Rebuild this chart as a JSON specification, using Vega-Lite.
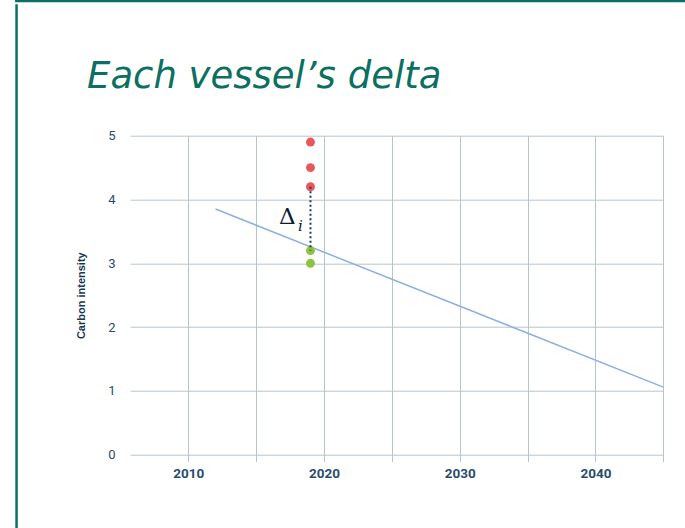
{
  "$schema": "https://vega.github.io/schema/vega-lite/v6.json",
  "autosize": {"type": "none"},
  "width": 533.3,
  "height": 319,
  "padding": {"left": 130, "top": 135.7, "right": 21.7, "bottom": 73.3},
  "background": "white",
  "data": {"values": [{}]},
  "title": {
    "text": "Each vessel’s delta",
    "anchor": "start",
    "frame": "group",
    "orient": "top",
    "baseline": "alphabetic",
    "offset": -125,
    "dx": -43,
    "font": "DejaVu Sans",
    "fontStyle": "italic",
    "fontWeight": "normal",
    "fontSize": 37,
    "color": "#0b6f62"
  },
  "config": {
    "view": {"stroke": null},
    "axis": {
      "gridColor": "#b7c4ce",
      "gridWidth": 1,
      "gridOpacity": 1,
      "domain": false
    }
  },
  "datasets": {
    "vessels": [
      {"year": 2019, "intensity": 4.9, "status": "above"},
      {"year": 2019, "intensity": 4.5, "status": "above"},
      {"year": 2019, "intensity": 4.2, "status": "above"},
      {"year": 2019, "intensity": 3.2, "status": "below"},
      {"year": 2019, "intensity": 3.0, "status": "below"}
    ],
    "trajectory": [
      {"year": 2012, "intensity": 3.85},
      {"year": 2045, "intensity": 1.06}
    ]
  },
  "layer": [
    {
      "mark": {"type": "rule", "color": "#0b6f62", "strokeWidth": 2.5, "clip": false},
      "encoding": {
        "x": {"datum": 1997.34, "type": "quantitative", "scale": {"domain": [2005.7, 2045], "nice": false, "zero": false}},
        "y": {"datum": -1.2, "type": "quantitative", "scale": {"domain": [0, 5], "nice": false}},
        "y2": {"datum": 7.06}
      }
    },
    {
      "mark": {"type": "rule", "color": "#0b6f62", "strokeWidth": 2.5, "clip": false},
      "encoding": {
        "x": {"datum": 1997.23, "type": "quantitative"},
        "x2": {"datum": 2047},
        "y": {"datum": 7.11, "type": "quantitative"}
      }
    },
    {
      "data": {"name": "trajectory"},
      "mark": {"type": "line", "color": "#8db0e3", "strokeWidth": 1.5},
      "encoding": {
        "x": {
          "field": "year",
          "type": "quantitative",
          "scale": {"domain": [2005.7, 2045], "nice": false, "zero": false},
          "axis": {
            "title": null,
            "values": [2010, 2015, 2020, 2025, 2030, 2035, 2040, 2045],
            "format": "d",
            "labelExpr": "datum.value % 10 === 0 ? datum.label : ''",
            "grid": true,
            "ticks": true,
            "tickSize": 7,
            "tickColor": "#b7c4ce",
            "labelFont": "Roboto",
            "labelFontWeight": "bold",
            "labelFontSize": 13.5,
            "labelColor": "#2a4d6b",
            "labelPadding": 5
          }
        },
        "y": {
          "field": "intensity",
          "type": "quantitative",
          "scale": {"domain": [0, 5], "nice": false},
          "axis": {
            "title": "Carbon intensity",
            "values": [0, 1, 2, 3, 4, 5],
            "format": "d",
            "grid": true,
            "ticks": false,
            "labelPadding": 15,
            "labelFont": "Roboto",
            "labelFontSize": 13,
            "labelColor": "#2a4d6b",
            "titleFont": "Liberation Sans",
            "titleFontWeight": "bold",
            "titleFontSize": 11,
            "titleColor": "#1c3553",
            "titlePadding": 21
          }
        }
      }
    },
    {
      "data": {"name": "vessels"},
      "mark": {"type": "circle", "size": 80, "opacity": 1},
      "encoding": {
        "x": {"field": "year", "type": "quantitative"},
        "y": {"field": "intensity", "type": "quantitative"},
        "color": {
          "field": "status",
          "type": "nominal",
          "scale": {"domain": ["above", "below"], "range": ["#e8585a", "#8cc43f"]},
          "legend": null
        }
      }
    },
    {
      "mark": {"type": "rule", "color": "#1d3a5c", "strokeWidth": 2, "strokeDash": [2, 2.5]},
      "encoding": {
        "x": {"datum": 2019, "type": "quantitative"},
        "y": {"datum": 4.2, "type": "quantitative"},
        "y2": {"datum": 3.2}
      }
    },
    {
      "mark": {"type": "text", "text": "Δ", "font": "DejaVu Serif", "fontSize": 23, "color": "#0e1b36", "align": "center", "baseline": "alphabetic"},
      "encoding": {
        "x": {"datum": 2017.3, "type": "quantitative"},
        "y": {"datum": 3.61, "type": "quantitative"}
      }
    },
    {
      "mark": {"type": "text", "text": "i", "font": "DejaVu Serif", "fontStyle": "italic", "fontSize": 15, "color": "#0e1b36", "align": "center", "baseline": "alphabetic"},
      "encoding": {
        "x": {"datum": 2018.26, "type": "quantitative"},
        "y": {"datum": 3.5, "type": "quantitative"}
      }
    }
  ]
}
